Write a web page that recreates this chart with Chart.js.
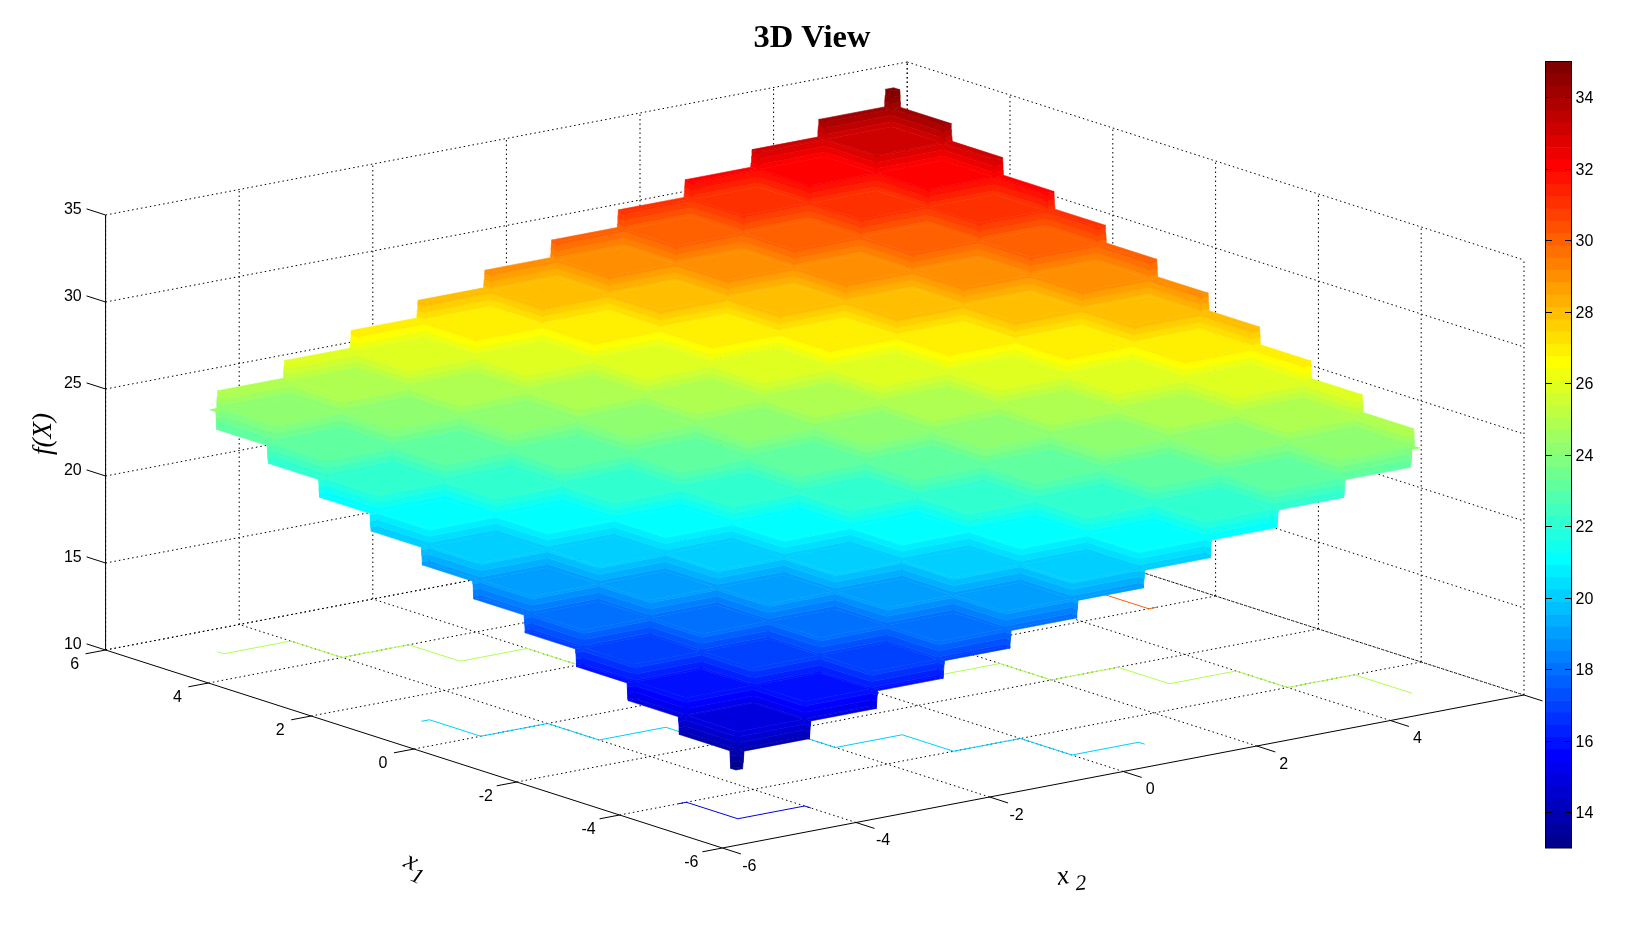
<!DOCTYPE html>
<html>
<head>
<meta charset="utf-8">
<title>3D View</title>
<script src="https://cdn.jsdelivr.net/npm/chart.js@4"></script>
<style>
html,body{margin:0;padding:0;background:#fff;width:1632px;height:945px;overflow:hidden}
canvas{position:absolute;top:0;display:block}
#main{left:0}
#bar{left:1545px}
</style>
</head>
<body>
<canvas id="main" width="1624" height="945"></canvas>
<canvas id="bar" width="87" height="945"></canvas>
<script>
/* ---------- data ---------- */
const chartTitle = '3D View';
const x1Ticks = [-6,-4,-2,0,2,4,6];
const x2Ticks = [-6,-4,-2,0,2,4,6];
const x2TickLabels = ['-6','-4','-2','0','2','4',''];
const zTicks = [10,15,20,25,30,35];
const colorbarTicks = [14,16,18,20,22,24,26,28,30,32,34];
const colorMin = 13, colorMax = 35;

const x1Edges = [-5.12,-5,-4,-3,-2,-1,0,1,2,3,4,5,5.12];
const x2Edges = [-5.12,-5,-4,-3,-2,-1,0,1,2,3,4,5,5.12];
/* f(X) on each cell: rows follow x1, columns follow x2 */
const surfaceZ = [
 [13,14,15,16,17,18,19,20,21,22,23,24],
 [14,15,16,17,18,19,20,21,22,23,24,25],
 [15,16,17,18,19,20,21,22,23,24,25,26],
 [16,17,18,19,20,21,22,23,24,25,26,27],
 [17,18,19,20,21,22,23,24,25,26,27,28],
 [18,19,20,21,22,23,24,25,26,27,28,29],
 [19,20,21,22,23,24,25,26,27,28,29,30],
 [20,21,22,23,24,25,26,27,28,29,30,31],
 [21,22,23,24,25,26,27,28,29,30,31,32],
 [22,23,24,25,26,27,28,29,30,31,32,33],
 [23,24,25,26,27,28,29,30,31,32,33,34],
 [24,25,26,27,28,29,30,31,32,33,34,35]
];
/* floor contours: level, then x1 and x2 of the vertices */
const contourLevels = [15,20,25,30];
const contour15X1 = [-4,-4,-5,-5,-5.12];
const contour15X2 = [-5.12,-5,-5,-4,-4];
const contour20X1 = [1,1,0,0,-1,-1,-2,-2,-3,-3,-4,-4,-5,-5,-5.12];
const contour20X2 = [-5.12,-5,-5,-4,-4,-3,-3,-2,-2,-1,-1,0,0,1,1];
const contour25X1 = [5.12,5,5,4,4,3,3,2,2,1,1,0,0,-1,-1,-2,-2,-3,-3,-4,-4,-5,-5.12];
const contour25X2 = [-5,-5,-4,-4,-3,-3,-2,-2,-1,-1,0,0,1,1,2,2,3,3,4,4,5,5,5];
const contour30X1 = [5.12,5,5,4,4,3,3,2,2,1,1,0,0];
const contour30X2 = [0,0,1,1,2,2,3,3,4,4,5,5,5.12];
const contourX1 = [contour15X1,contour20X1,contour25X1,contour30X1];
const contourX2 = [contour15X2,contour20X2,contour25X2,contour30X2];

/* ---------- orthographic camera of the 3D box ---------- */
const cam = {ox:814.8, oy:672.5, x1x:-51.4, x2x:66.8, x1y:-16.5, x2y:-12.75, zy:-17.4, z0:10};
function project(x1,x2,z){
  return {x:cam.ox + cam.x1x*x1 + cam.x2x*x2,
          y:cam.oy + cam.x1y*x1 + cam.x2y*x2 + cam.zy*(z-cam.z0)};
}
const boxX1 = [-6,6], boxX2 = [-6,6], boxZ = [10,35];
const meshStep = 0.02;

/* MATLAB jet, 64 entries */
const jetSize = 64;
function jetAt(c){
  const u = k => (k<1||k>47) ? 0 : (k<=16 ? k/16 : (k<=31 ? 1 : (48-k)/16));
  return 'rgb(' + [u(c-24),u(c-8),u(c+8)].map(v=>Math.round(v*255)).join(',') + ')';
}
function jetIndex(z){
  return Math.min(jetSize, Math.floor((z-colorMin)/(colorMax-colorMin)*jetSize)+1);
}

/* ---------- datasets in paint order ---------- */
const painted = [];
function addLine(points,color,width,dash){
  painted.push({type:'line',data:points,borderColor:color,borderWidth:width,
    borderDash:dash||[],pointRadius:0,fill:false,tension:0});
}
function addPoly(points,color){
  painted.push({type:'line',data:points.concat([points[0]]),borderColor:color,backgroundColor:color,
    borderWidth:0.6,pointRadius:0,fill:'shape',tension:0,borderJoinStyle:'round'});
}
const dots = [1.5,3];
/* back walls and floor grid */
x2Ticks.forEach(v=>{
  addLine([project(boxX1[1],v,boxZ[0]),project(boxX1[1],v,boxZ[1])],'#000',1,dots);
  if(v>boxX2[0]) addLine([project(boxX1[0],v,boxZ[0]),project(boxX1[1],v,boxZ[0])],'#000',1,dots);
});
x1Ticks.forEach(v=>{
  addLine([project(v,boxX2[1],boxZ[0]),project(v,boxX2[1],boxZ[1])],'#000',1,dots);
  if(v>boxX1[0]) addLine([project(v,boxX2[0],boxZ[0]),project(v,boxX2[1],boxZ[0])],'#000',1,dots);
});
zTicks.forEach(v=>{
  addLine([project(boxX1[1],boxX2[0],v),project(boxX1[1],boxX2[1],v)],'#000',1,dots);
  addLine([project(boxX1[1],boxX2[1],v),project(boxX1[0],boxX2[1],v)],'#000',1,dots);
});
/* solid axes and tick marks */
addLine([project(boxX1[1],boxX2[0],boxZ[0]),project(boxX1[0],boxX2[0],boxZ[0])],'#000',1);
addLine([project(boxX1[0],boxX2[0],boxZ[0]),project(boxX1[0],boxX2[1],boxZ[0])],'#000',1);
addLine([project(boxX1[1],boxX2[0],boxZ[0]),project(boxX1[1],boxX2[0],boxZ[1])],'#000',1);
x1Ticks.forEach(v=>addLine([project(v,boxX2[0],boxZ[0]),project(v,boxX2[0]-0.3,boxZ[0])],'#000',1));
x2Ticks.forEach(v=>addLine([project(boxX1[0],v,boxZ[0]),project(boxX1[0]-0.36,v,boxZ[0])],'#000',1));
zTicks.forEach(v=>addLine([project(boxX1[1],boxX2[0],v),project(boxX1[1]+0.37,boxX2[0],v)],'#000',1));
/* floor contours */
contourLevels.forEach((lev,n)=>{
  addLine(contourX1[n].map((a,k)=>project(a,contourX2[n][k],boxZ[0])),jetAt(jetIndex(lev)),1);
});
/* staircase surface, far cells first */
function riser(zLo,zHi,corner){
  const step=(colorMax-colorMin)/jetSize;
  let a=zLo;
  while(a<zHi-1e-9){
    const k=Math.floor((a-colorMin)/step+1e-9)+1;
    const b=Math.min(zHi,colorMin+k*step);
    const t0=(a-zLo)/(zHi-zLo), t1=(b-zLo)/(zHi-zLo);
    addPoly([corner(0,t0,a),corner(1,t0,a),corner(1,t1,b),corner(0,t1,b)],jetAt(jetIndex((a+b)/2)));
    a=b;
  }
}
for(let i=surfaceZ.length-1;i>=0;i--){
  for(let j=surfaceZ[i].length-1;j>=0;j--){
    const z=surfaceZ[i][j];
    const a1=x1Edges[i], b1=x1Edges[i+1]-(i<surfaceZ.length-1?meshStep:0);
    const a2=x2Edges[j], b2=x2Edges[j+1]-(j<surfaceZ[i].length-1?meshStep:0);
    addPoly([project(a1,a2,z),project(b1,a2,z),project(b1,b2,z),project(a1,b2,z)],jetAt(jetIndex(z)));
    if(i>0){
      const lo=surfaceZ[i-1][j], top2=x2Edges[j+1], low2=a2-(j>0?2*meshStep:0);
      riser(lo,z,(side,t,zz)=>project(a1-meshStep*(1-t),side?top2:low2,zz));
    }
    if(j>0){
      const lo=surfaceZ[i][j-1], top1=x1Edges[i+1], low1=a1-(i>0?2*meshStep:0);
      riser(lo,z,(side,t,zz)=>project(side?top1:low1,a2-meshStep*(1-t),zz));
    }
  }
}
/* Chart.js paints the last dataset first */
const mainDatasets = painted.slice().reverse();

/* ---------- text on the 3D box ---------- */
const tickFont = '16px "Liberation Sans", Arial, sans-serif';
const serifItalic = s => 'italic ' + s + 'px "Liberation Serif", "Times New Roman", serif';
const boxText = {
  id:'boxText',
  afterDraw(chart){
    const {ctx,scales:{x,y}}=chart;
    const put=(t,px,py,font,rot)=>{
      ctx.save();
      ctx.translate(x.getPixelForValue(px),y.getPixelForValue(py));
      if(rot) ctx.rotate(rot*Math.PI/180);
      ctx.font=font; ctx.fillStyle='#000'; ctx.textAlign='center'; ctx.textBaseline='middle';
      ctx.fillText(t,0,0);
      ctx.restore();
    };
    zTicks.forEach(v=>{const p=project(boxX1[1],boxX2[0],v);put(String(v),p.x-32.8,p.y-5.5,tickFont);});
    x1Ticks.forEach(v=>{const p=project(v,boxX2[0],boxZ[0]);put(String(v),p.x-31,p.y+14.5,tickFont);});
    x2Ticks.forEach((v,k)=>{const p=project(boxX1[0],v,boxZ[0]);if(x2TickLabels[k])put(x2TickLabels[k],p.x+27,p.y+18.5,tickFont);});
    put('f(X)',44,434,serifItalic(27),-90);
    put('x',411,862,serifItalic(27),25);
    put('1',417,877,serifItalic(22),25);
    put('x',1063,877,serifItalic(27),-10);
    put('2',1081,884,serifItalic(22),-5);
  }
};

const titleFontSize=32.5, titleTopPad=19;
const titleBlock=titleTopPad+titleFontSize*1.2;
new Chart(document.getElementById('main'),{
  type:'line',
  data:{datasets:mainDatasets},
  options:{
    responsive:false,animation:false,events:[],devicePixelRatio:1,
    layout:{padding:0},
    parsing:{xAxisKey:'x',yAxisKey:'y'},
    scales:{
      x:{type:'linear',display:false,min:0,max:1624},
      y:{type:'linear',display:false,reverse:true,min:titleBlock,max:945}
    },
    plugins:{
      legend:{display:false},tooltip:{enabled:false},
      title:{display:true,text:chartTitle,color:'#000',
        font:{family:'"Liberation Serif","Times New Roman",serif',size:titleFontSize,weight:'bold'},
        padding:{top:titleTopPad,bottom:0}}
    }
  },
  plugins:[boxText]
});

/* ---------- colour bar: its own chart with a real value axis ---------- */
const barDatasets=[];
for(let c=1;c<=jetSize;c++){
  const w=(colorMax-colorMin)/jetSize;
  barDatasets.push({data:[[colorMin+(c-1)*w,colorMin+c*w]],backgroundColor:jetAt(c),borderWidth:0,
    grouped:false,barPercentage:1,categoryPercentage:1});
}
const barFrame={
  id:'barFrame',
  afterDatasetsDraw(chart){
    const {ctx,chartArea:a,scales:{y}}=chart;
    ctx.save();ctx.strokeStyle='#000';ctx.lineWidth=1;
    ctx.strokeRect(a.left+0.5,a.top,a.right-a.left-1,a.bottom-a.top);
    colorbarTicks.forEach(v=>{
      const p=Math.round(y.getPixelForValue(v))+0.5;
      ctx.beginPath();
      ctx.moveTo(a.left,p);ctx.lineTo(a.left+7,p);
      ctx.moveTo(a.right-7,p);ctx.lineTo(a.right,p);
      ctx.stroke();
    });
    ctx.restore();
  }
};
new Chart(document.getElementById('bar'),{
  type:'bar',
  data:{labels:['f(X)'],datasets:barDatasets},
  options:{
    responsive:false,animation:false,events:[],devicePixelRatio:1,
    layout:{padding:{left:0,right:0,top:61.5,bottom:97}},
    scales:{
      x:{display:false},
      y:{type:'linear',position:'right',min:colorMin,max:colorMax,
        afterBuildTicks:s=>{s.ticks=colorbarTicks.map(v=>({value:v}));},
        afterFit:s=>{s.width=60;},
        grid:{display:false,drawTicks:false},
        border:{display:false},
        ticks:{color:'#000',padding:3.5,labelOffset:1.5,font:{family:'"Liberation Sans",Arial,sans-serif',size:16}}}
    },
    plugins:{legend:{display:false},tooltip:{enabled:false},title:{display:false}}
  },
  plugins:[barFrame]
});
</script>
</body>
</html>
